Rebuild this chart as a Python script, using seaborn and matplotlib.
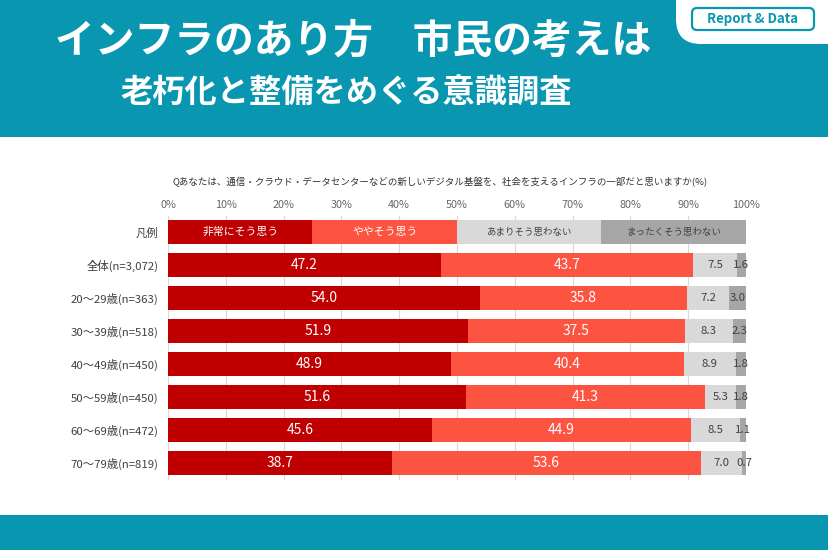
import matplotlib
matplotlib.use('Agg')
import matplotlib.pyplot as plt
import seaborn as sns
import pandas as pd
from matplotlib.patches import Rectangle, FancyBboxPatch

# data
groups = ['全体(n=3,072)', '20～29歳(n=363)', '30～39歳(n=518)', '40～49歳(n=450)',
          '50～59歳(n=450)', '60～69歳(n=472)', '70～79歳(n=819)']
answers = ['非常にそう思う', 'ややそう思う', 'あまりそう思わない', 'まったくそう思わない']
very = [47.2, 54.0, 51.9, 48.9, 51.6, 45.6, 38.7]
somewhat = [43.7, 35.8, 37.5, 40.4, 41.3, 44.9, 53.6]
not_much = [7.5, 7.2, 8.3, 8.9, 5.3, 8.5, 7.0]
not_at_all = [1.6, 3.0, 2.3, 1.8, 1.8, 1.1, 0.7]
legend_label = '凡例'
legend_vals = [25, 25, 25, 25]
ticks = [0, 10, 20, 30, 40, 50, 60, 70, 80, 90, 100]

question = 'Qあなたは、通信・クラウド・データセンターなどの新しいデジタル基盤を、社会を支えるインフラの一部だと思いますか(%)'
title1 = 'インフラのあり方　市民の考えは'
title2 = '老朽化と整備をめぐる意識調査'

colors = ['#c00000', '#fd5442', '#d9d9d9', '#a6a6a6']
txt_colors = ['white', 'white', '#404040', '#404040']
teal = '#0996b1'

rows = [legend_label] + groups
df = pd.DataFrame({
    'group': rows,
    'a': [legend_vals[0]] + very,
    'b': [legend_vals[1]] + somewhat,
    'c': [legend_vals[2]] + not_much,
    'd': [legend_vals[3]] + not_at_all,
})
cols = ['a', 'b', 'c', 'd']
cum = df[cols].cumsum(axis=1)
for c in cols:
    df['cum_' + c] = cum[c]

plt.rcParams['font.family'] = ['Noto Sans CJK JP', 'DejaVu Sans']

fig = plt.figure(figsize=(8.29, 5.5), dpi=100)
fig.patch.set_facecolor('white')

# header / footer bands
fig.patches.append(Rectangle((0, 1 - 137 / 550), 1, 137 / 550, transform=fig.transFigure,
                             facecolor=teal, edgecolor='none', zorder=0))
fig.patches.append(Rectangle((0, 0), 1, 35 / 550, transform=fig.transFigure,
                             facecolor=teal, edgecolor='none', zorder=0))
fig.patches.append(FancyBboxPatch((676 / 829, 1 - 44 / 550), 0.3, 0.2,
                                  boxstyle='round,pad=0,rounding_size=0.03',
                                  transform=fig.transFigure, facecolor='white',
                                  edgecolor='none', zorder=1, mutation_aspect=829 / 550))
fig.patches.append(FancyBboxPatch((692 / 829, 1 - 30 / 550), 122 / 829, 22 / 550,
                                  boxstyle='round,pad=0,rounding_size=0.006',
                                  transform=fig.transFigure, facecolor='white',
                                  edgecolor=teal, linewidth=1.6, zorder=2,
                                  mutation_aspect=829 / 550))
fig.text(753 / 829, 1 - 19 / 550, 'Report & Data', color=teal, fontsize=9.5,
         fontweight='bold', ha='center', va='center', zorder=3)

fig.text(55 / 829, 1 - 41 / 550, title1, color='white', fontsize=28.6, fontweight='bold',
         ha='left', va='center')
fig.text(120 / 829, 1 - 92 / 550, title2, color='white', fontsize=23.2, fontweight='bold',
         ha='left', va='center')
fig.text(440 / 829, 1 - 182 / 550, question, color='#333333', fontsize=6.8,
         ha='center', va='center')

# chart
ax = fig.add_axes([168 / 829, 1 - 479.5 / 550, 578 / 829, 264 / 550])
for c, col in zip(reversed(cols), reversed(colors)):
    sns.barplot(data=df, x='cum_' + c, y='group', order=rows, orient='h', color=col,
                saturation=1, width=0.73, errorbar=None, ax=ax, linewidth=0)

ax.set_xlim(0, 100)
ax.set_ylim(len(rows) - 0.5, -0.5)
ax.xaxis.tick_top()
ax.set_xticks(ticks)
ax.set_xticklabels([f'{t}%' for t in ticks], color='#666666', fontsize=7.8)
ax.tick_params(axis='x', length=0, pad=4)
ax.tick_params(axis='y', length=0, pad=7, labelsize=8.2, labelcolor='#404040')
ax.set_xlabel('')
ax.set_ylabel('')
ax.grid(axis='x', color='#d9d9d9', linewidth=0.8)
ax.set_axisbelow(True)
for s in ax.spines.values():
    s.set_visible(False)

# labels
for i, row in df.iterrows():
    left = 0
    for j, c in enumerate(cols):
        v = row[c]
        center = left + v / 2
        if i == 0:
            ax.text(center, i, answers[j], color=txt_colors[j],
                    fontsize=7.8 if j < 2 else 6.8, ha='center', va='center')
        else:
            ax.text(center, i, f'{v:.1f}', color=txt_colors[j],
                    fontsize=10 if j < 2 else 8.2, ha='center', va='center')
        left += v

fig.savefig('out.png', dpi=100)
